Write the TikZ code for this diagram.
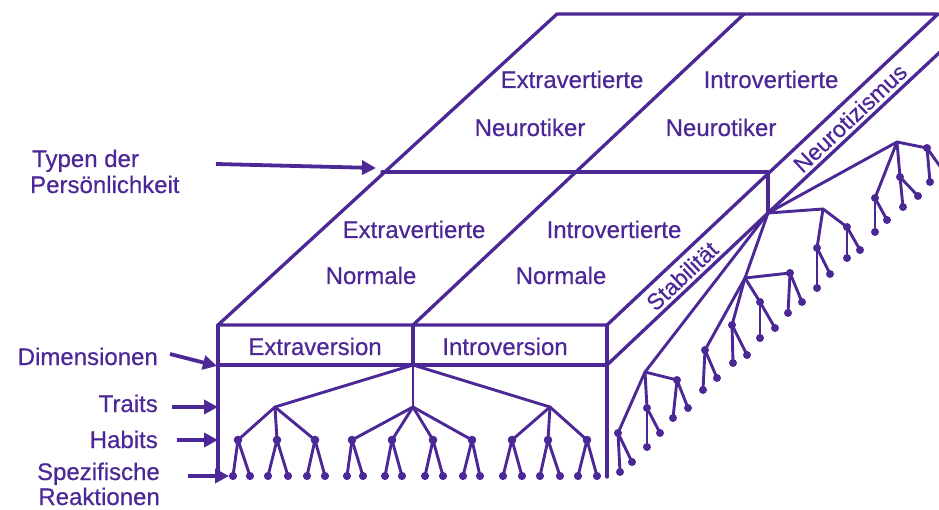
\documentclass[tikz,border=0pt]{standalone}
\usepackage{fontspec}
\setmainfont[FakeBold=0.5]{Liberation Sans}
\usetikzlibrary{arrows.meta}
\definecolor{ink}{RGB}{76,40,150}
\begin{document}
\begin{tikzpicture}[x=1pt,y=-1pt,
  box/.style={draw=ink, line width=3.3pt, line join=round, line cap=round},
  br/.style={draw=ink, line width=2.9pt, line cap=round},
  lab/.style={text=ink, inner sep=0pt, font=\fontsize{24}{28}\selectfont},
  rlab/.style={text=ink, inner sep=0pt, font=\fontsize{23}{26}\selectfont, rotate=43.3},
  ptr/.style={draw=ink, line width=3.8pt, -{Triangle[length=14pt,width=14pt]}},
  dotc/.style={fill=ink}]
\useasboundingbox (0,0) rectangle (939,510);
\clip (0,0) rectangle (939,510);

% ---------- box corners ----------
\coordinate (FTL) at (218,325);
\coordinate (FTR) at (607,325);
\coordinate (FTM) at (413,325);
\coordinate (BTL) at (557,14);
\coordinate (BTR) at (938,14);
\coordinate (BTM) at (744,14);
\coordinate (ML) at (382,172);
\coordinate (MR) at (768,172);
\coordinate (FSL) at (218,365);
\coordinate (FSR) at (607,365);
\coordinate (FBL) at (218,478);
\coordinate (FBR) at (607,477);
\coordinate (RSE) at (940,52);
\coordinate (R) at (413,365);
\coordinate (R2) at (768,213);

% top surface
\draw[box] (FTL) -- (BTL) -- (BTR) -- (FTR) -- cycle;
\draw[box] (ML) -- (MR);
\draw[box] (FTM) -- (BTM);
% front face
\draw[box] (FSL) -- (FSR);
\draw[box] (FTL) -- (FBL);
\draw[box] (FTR) -- (FBR);
\draw[box] (FTM) -- (R);
% right strip
\draw[box] (FSR) -- (R2) -- (RSE);
\draw[box] (MR) -- (R2);

% ---------- front tree ----------
\coordinate (T1) at (275,407);
\coordinate (T2) at (413,407);
\coordinate (T3) at (550,407);
\draw[br] (R) -- (T1);
\draw[br] (R) -- (T2);
\draw[br] (R) -- (T3);
\foreach \n/\x/\a/\b in {1/238/233/250, 2/277/268/288, 3/315/307/325,
  4/352/347/363, 5/392/385/402, 6/433/425/443, 7/472/463/480,
  8/512/503/522, 9/548/540/560, 10/587/578/597}{
  \coordinate (H\n) at (\x,440);
  \coordinate (L\n a) at (\a,476);
  \coordinate (L\n b) at (\b,476);
  \draw[br] (H\n) -- (L\n a);
  \draw[br] (H\n) -- (L\n b);
  \fill[dotc] (H\n) circle (4.3);
  \fill[dotc] (L\n a) circle (4.1);
  \fill[dotc] (L\n b) circle (4.1);
}
\foreach \t/\h in {1/1,1/2,1/3,2/4,2/5,2/6,2/7,3/8,3/9,3/10}
  \draw[br] (T\t) -- (H\h);

% ---------- right tree ----------
\coordinate (Ta) at (645,372);
\coordinate (Tb) at (745,278);
\coordinate (Tc) at (823,209);
\coordinate (Td) at (897,142);
\foreach \t in {a,b,c,d} \draw[br] (R2) -- (T\t);
\foreach \n/\hx/\hy/\ax/\ay/\bx/\by in {
  1/618/433/620/472/632/462, 2/647/408/647/447/660/433,
  3/677/380/673/418/688/408, 4/705/350/703/390/717/378,
  5/732/325/733/363/747/355, 6/760/302/760/338/775/328,
  7/790/273/788/313/802/302, 8/817/248/817/288/830/274,
  9/847/227/847/258/860/250, 10/875/198/875/232/887/220,
  11/900/177/903/207/918/196, 12/927/148/930/182/944/172}{
  \coordinate (G\n) at (\hx,\hy);
  \coordinate (K\n a) at (\ax,\ay);
  \coordinate (K\n b) at (\bx,\by);
  \draw[br] (G\n) -- (K\n a);
  \draw[br] (G\n) -- (K\n b);
  \fill[dotc] (G\n) circle (4.0);
  \fill[dotc] (K\n a) circle (4.0);
  \fill[dotc] (K\n b) circle (4.0);
}
\foreach \t/\h in {a/1,a/2,a/3,b/4,b/5,b/6,b/7,c/8,c/9,d/10,d/11,d/12}
  \draw[br] (T\t) -- (G\h);

% ---------- texts on top ----------
\node[lab, anchor=base] (xn) at (572,88) {Extravertierte};
\node[lab, anchor=base] (nx) at (530,136) {Neurotiker};
\node[lab, anchor=base] (in) at (771,88) {Introvertierte};
\node[lab, anchor=base] (ni) at (721,136) {Neurotiker};
\node[lab, anchor=base] (xs) at (414,238) {Extravertierte};
\node[lab, anchor=base] (sx) at (371,284) {Normale};
\node[lab, anchor=base] (is) at (614,238) {Introvertierte};
\node[lab, anchor=base] (si) at (561,284) {Normale};
% strip texts
\node[lab, anchor=base] (ev) at (315,355) {Extraversion};
\node[lab, anchor=base] (iv) at (505,355) {Introversion};
\node[rlab] (st) at (682,276) {Stabilität};
\node[rlab] (ne) at (850,118) {Neurotizismus};

% ---------- left labels ----------
\node[lab, anchor=base west] (ty1) at (32,167) {Typen der};
\node[lab, anchor=base west] (ty2) at (30,193) {Persönlichkeit};
\node[lab, anchor=base east] (di) at (158,365) {Dimensionen};
\node[lab, anchor=base east] (tr) at (158,412) {Traits};
\node[lab, anchor=base east] (ha) at (158,448) {Habits};
\node[lab, anchor=base east] (sp) at (160,480) {Spezifische};
\node[lab, anchor=base east] (re) at (160,505) {Reaktionen};

% arrows
\coordinate (a1s) at (216,164);
\coordinate (a1e) at (376,168);
\coordinate (a2s) at (170,354);
\coordinate (a2e) at (217,366);
\coordinate (a3s) at (172,407);
\coordinate (a3e) at (218,407);
\coordinate (a4s) at (177,440);
\coordinate (a4e) at (218,440);
\coordinate (a5s) at (188,476);
\coordinate (a5e) at (229,476);
\draw[ptr] (a1s) -- (a1e);
\draw[ptr] (a2s) -- (a2e);
\draw[ptr] (a3s) -- (a3e);
\draw[ptr] (a4s) -- (a4e);
\draw[ptr] (a5s) -- (a5e);
\end{tikzpicture}
\end{document}
